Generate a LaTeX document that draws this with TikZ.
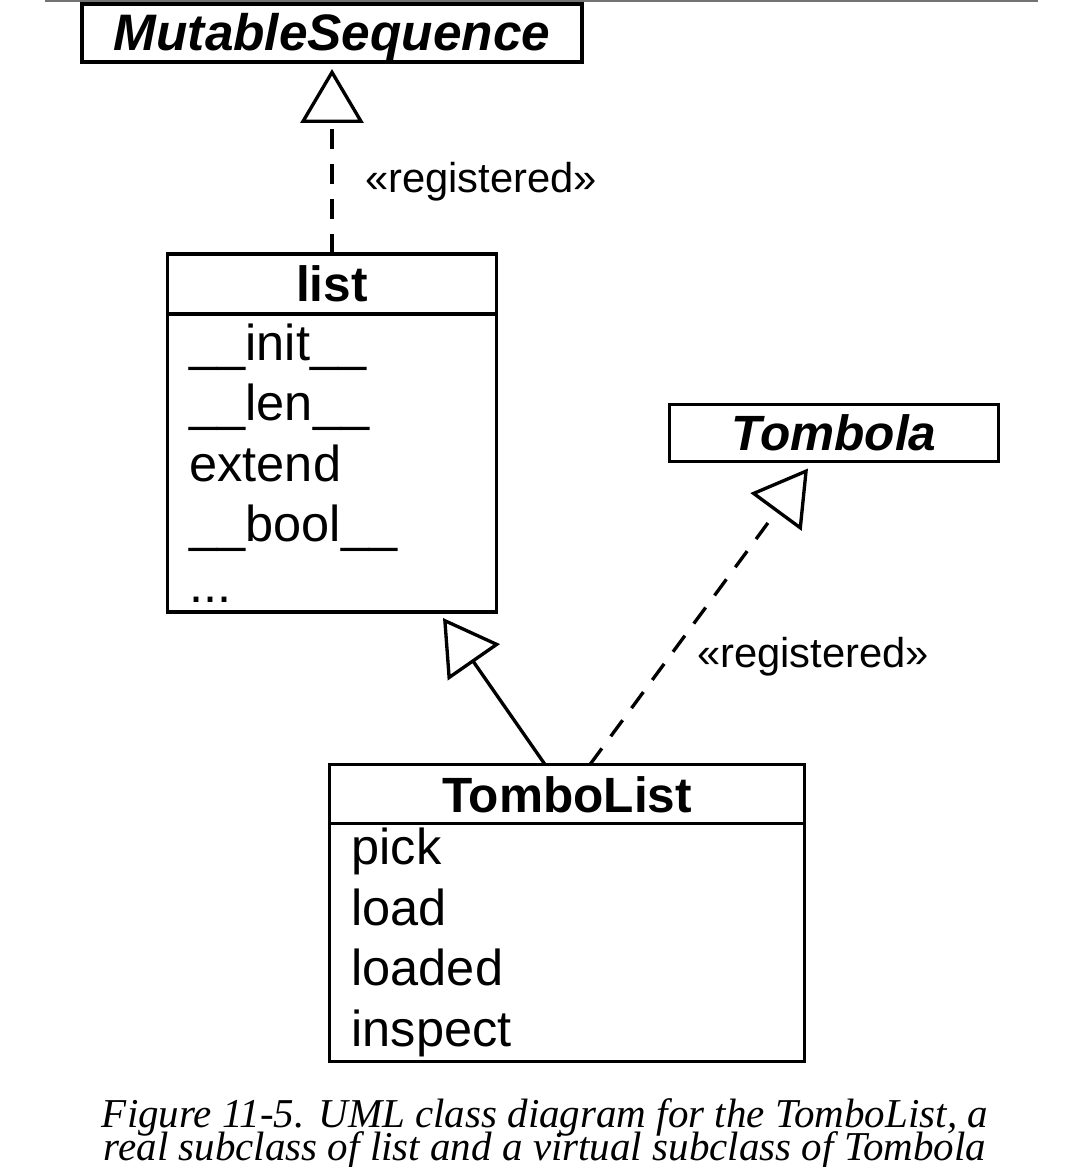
\documentclass[tikz,border=0pt]{standalone}
\usepackage{fontspec}
\setmainfont{Liberation Sans}
\newfontfamily\captionserif{Liberation Serif}
\newcommand\captionlook{\captionserif\itshape\fontsize{11.67}{9.5}\selectfont\lineskiplimit=-100pt\relax}
\usetikzlibrary{arrows.meta}

\begin{document}
\begin{tikzpicture}[
  classbox/.style={draw,line width=0.9pt,inner sep=0pt,outer sep=0pt,minimum height=0.58cm,
    text height=0.36cm,text depth=0pt,font=\fontsize{14.1}{17}\selectfont\bfseries},
  abstractbox/.style={classbox,font=\fontsize{14.1}{17}\selectfont\bfseries\itshape},
  members/.style={draw,line width=0.9pt,inner xsep=0.22cm,inner ysep=0pt,outer sep=0pt,align=left,
    anchor=north,font=\fontsize{14.37}{17.2}\selectfont},
  stereo/.style={inner sep=0pt,font=\fontsize{11.87}{14}\selectfont},
  inherit/.style={line width=0.95pt,-{Triangle[open,length=0.54cm,width=0.63cm]}},
  realize/.style={inherit,dash pattern=on 0.2cm off 0.15cm}
]
  \useasboundingbox (0,0) rectangle (10.8,-11.67);
  \draw[black!55,line width=0.6pt] (0.45,-0.005) -- (10.38,-0.005);
%MutableSequence
  \node[abstractbox,minimum width=5.0cm,font=\fontsize{14.6}{17}\selectfont\bfseries\itshape] (M) at (3.32,-0.33) {MutableSequence};
%list class
  \node[classbox,minimum width=3.29cm,minimum height=0.6cm] (L) at (3.32,-2.84) {list};
  \node[members,text width=2.85cm,minimum height=2.98cm] (Ll) at (L.south)
    {\_\_init\_\_\\\_\_len\_\_\\extend\\\_\_bool\_\_\\...};
% registered
  \draw[realize] (L.north) -- ([yshift=-0.07cm]M.south);
  \node[stereo] (R1) at (4.81,-1.82) {«registered»};
%Tombola
  \node[abstractbox,minimum width=3.29cm,minimum height=0.57cm] (T) at (8.34,-4.33) {Tombola};
%TomboList class
  \node[classbox,minimum width=4.75cm,minimum height=0.59cm] (TL) at (5.67,-7.94) {TomboList};
  \node[members,text width=4.31cm,minimum height=2.38cm] (TLl) at (TL.south)
    {pick\\load\\loaded\\inspect};
% subclass
  \draw[inherit] ([xshift=-0.22cm]TL.north) -- ([xshift=1.11cm,yshift=-0.06cm]Ll.south);
% registered
  \draw[realize] ([xshift=0.23cm]TL.north) -- ([xshift=-0.26cm,yshift=-0.07cm]T.south);
  \node[stereo] (R2) at (8.13,-6.57) {«registered»};
%caption
  \node[align=center,inner sep=0pt,font=\captionlook] (C) at (5.45,-11.34)
    {Figure 11-5. UML class diagram for the TomboList, a\\real subclass of list and a virtual subclass of Tombola};
\end{tikzpicture}
\end{document}
